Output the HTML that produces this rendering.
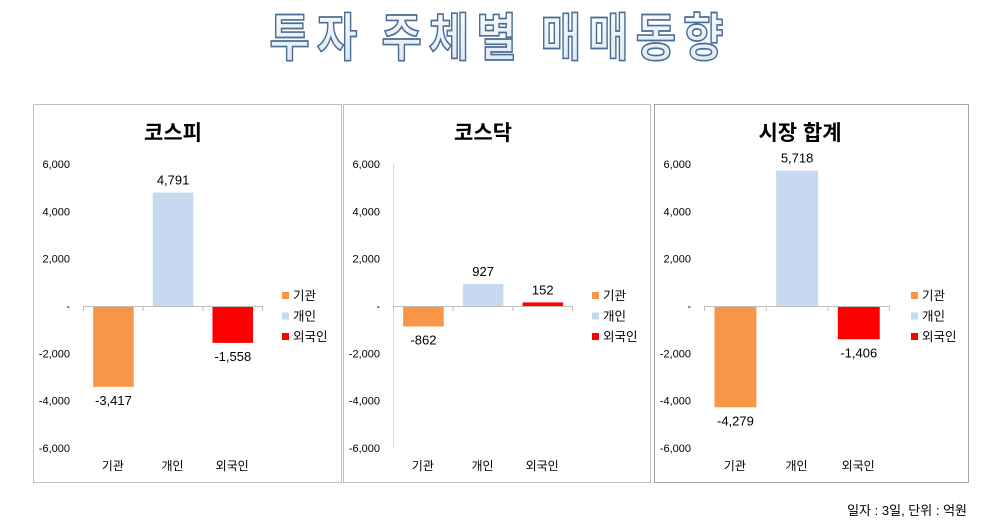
<!DOCTYPE html>
<html><head><meta charset="utf-8"><style>
html,body{margin:0;padding:0;background:#fff;width:1000px;height:521px;overflow:hidden}
svg{display:block}
text{font-family:"Liberation Sans","Noto Sans CJK KR",sans-serif}
</style></head><body>
<svg id="s" width="1000" height="521" xmlns="http://www.w3.org/2000/svg">
<defs><linearGradient id="tg" x1="0" y1="0" x2="0" y2="1"><stop offset="0" stop-color="#ffffff"/><stop offset="1" stop-color="#dbe6f2"/></linearGradient></defs>
<g transform="translate(500,56) scale(1,1.18)">
<text x="0" y="0" text-anchor="middle" font-size="44" font-weight="bold" fill="url(#tg)" stroke="#4a6d96" stroke-width="1.4" letter-spacing="7" style="font-family:'Noto Sans CJK KR',sans-serif">투자 주체별 매매동향</text>
</g>
</svg>
<script>
var s=document.getElementById('s'),ns='http://www.w3.org/2000/svg';
function el(t,a,txt){var e=document.createElementNS(ns,t);for(var k in a)e.setAttribute(k,a[k]);if(txt!=null)e.textContent=txt;s.appendChild(e);return e;}
var panels=[
 {x:33,w:308,b:'#bfbfbf',title:'코스피',ax:83,v:[-3417,4791,-1558],yaxis:false},
 {x:343,w:307,b:'#bfbfbf',title:'코스닥',ax:393,v:[-862,927,152],yaxis:true},
 {x:654,w:314,b:'#a6a6a6',title:'시장 합계',ax:704,v:[-4279,5718,-1406],yaxis:false}];
var cols=['#f79646','#c6d9f0','#ff0000'],cats=['기관','개인','외국인'];
function Y(v){return 306-v*142/6000;}
panels.forEach(function(p,i){
 el('rect',{x:p.x+0.5,y:104.5,width:p.w,height:378,fill:'#fff',stroke:p.b,'stroke-width':1});
 el('text',{x:(p.ax+p.ax+180)/2+ (i==2?6:0),y:140,'text-anchor':'middle','font-size':21,'font-weight':'bold',fill:'#000'},p.title);
 var labs=['6,000','4,000','2,000','-','-2,000','-4,000','-6,000'];
 for(var k=0;k<7;k++){var v=6000-k*2000;el('text',{x:p.ax-13,y:Y(v)+4,'text-anchor':'end','font-size':11,fill:'#000'},labs[k]);}
 var aw=i==2?185:179;
 if(p.yaxis){el('line',{x1:p.ax+0.5,y1:164,x2:p.ax+0.5,y2:448,stroke:'#d9d9d9'});}
 var sp=aw/3;
 for(var c=0;c<3;c++){
  var v=p.v[c],bx=p.ax+sp*c+sp*0.17,bw=sp*0.68;
  var y0=Y(Math.max(v,0)),y1=Y(Math.min(v,0));
  el('rect',{x:bx,y:y0,width:bw,height:y1-y0,fill:cols[c]});
  var lab=(v<0?'-':'')+Math.abs(v).toLocaleString('en-US');
  el('text',{x:bx+bw/2,y:v>=0?y0-8:y1+18,'text-anchor':'middle','font-size':13,fill:'#000'},lab);
  el('text',{x:p.ax+sp*c+sp/2,y:470,'text-anchor':'middle','font-size':12,fill:'#000'},cats[c]);
 }
 el('line',{x1:p.ax,y1:306.5,x2:p.ax+aw,y2:306.5,stroke:'#bfbfbf'});
 for(var c=0;c<=3;c++)el('line',{x1:p.ax+sp*c+0.5,y1:306,x2:p.ax+sp*c+0.5,y2:311,stroke:'#bfbfbf'});
 var lx=p.ax+aw+20+(i==2?2:0);
 for(var c=0;c<3;c++){
  el('rect',{x:lx,y:292+c*20.5,width:7,height:7,fill:cols[c]});
  el('text',{x:lx+11,y:300+c*20.5,'font-size':12.5,fill:'#000'},cats[c]);
 }
});
el('text',{x:967,y:515,'text-anchor':'end','font-size':13,fill:'#000'},'일자 : 3일, 단위 : 억원');
</script>
</body></html>
